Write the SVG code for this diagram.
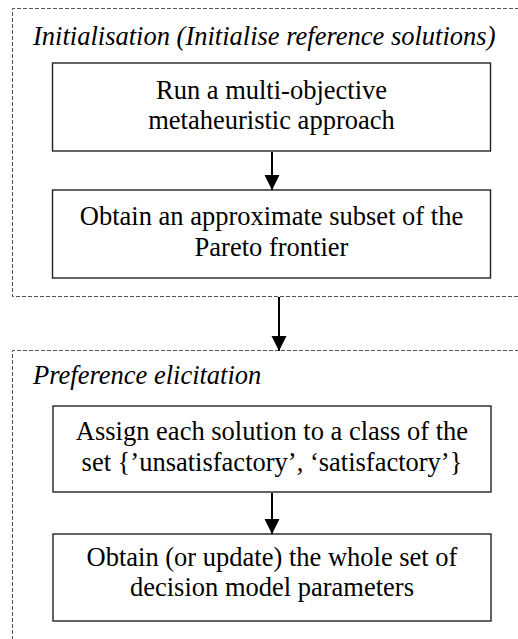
<svg xmlns="http://www.w3.org/2000/svg" width="518" height="639" viewBox="0 0 518 639">
<defs>
<style>
.grp{fill:none;stroke:#555;stroke-width:1;stroke-dasharray:4,2}
.box{fill:#fff;stroke:#222;stroke-width:1.4}
.t{font-family:"Liberation Serif","Times New Roman",serif;font-size:26.5px;fill:#000;text-anchor:middle}
.gt{font-family:"Liberation Serif","Times New Roman",serif;font-size:26.5px;font-style:italic;fill:#000}
.conn{stroke:#000;stroke-width:2;fill:none}
</style>
<marker id="ah" markerUnits="userSpaceOnUse" markerWidth="16" markerHeight="16" refX="15" refY="7.5" orient="auto">
<path d="M0,0 L15,7.5 L0,15 Z" fill="#000"/>
</marker>
</defs>
<g id="group-init">
<path class="grp" d="M519,8.5 H12.5 V296.5 H519"/>
<text class="gt" x="33" y="45">Initialisation (Initialise reference solutions)</text>
</g>
<g id="group-pref">
<path class="grp" d="M519,350.5 H12.5 V640"/>
<text class="gt" x="33" y="384">Preference elicitation</text>
</g>
<g id="node-run">
<rect class="box" x="52.5" y="63" width="438" height="88"/>
<text class="t" x="271.5" y="99">Run a multi-objective</text>
<text class="t" x="271.5" y="129">metaheuristic approach</text>
</g>
<g id="node-pareto">
<rect class="box" x="52.5" y="190" width="438" height="88"/>
<text class="t" x="271.5" y="225">Obtain an approximate subset of the</text>
<text class="t" x="271.5" y="256">Pareto frontier</text>
</g>
<g id="node-assign">
<rect class="box" x="53" y="406" width="438" height="86"/>
<text class="t" x="272" y="440">Assign each solution to a class of the</text>
<text class="t" x="272" y="471">set {’unsatisfactory’, ‘satisfactory’}</text>
</g>
<g id="node-obtain">
<rect class="box" x="53" y="534" width="438" height="87"/>
<text class="t" x="272" y="566">Obtain (or update) the whole set of</text>
<text class="t" x="272" y="596">decision model parameters</text>
</g>
<g id="connectors">
<line class="conn" x1="272" y1="152" x2="272" y2="190" marker-end="url(#ah)"/>
<line class="conn" x1="279" y1="297" x2="279" y2="351" marker-end="url(#ah)"/>
<line class="conn" x1="272" y1="493" x2="272" y2="534" marker-end="url(#ah)"/>
</g>
</svg>
